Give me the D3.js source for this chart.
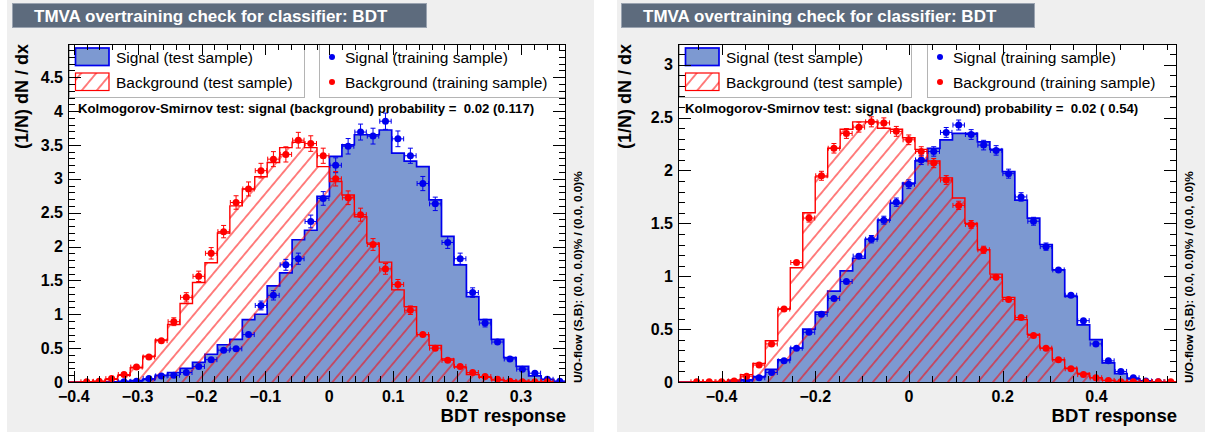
<!DOCTYPE html>
<meta charset="utf-8">

<head>
  <title>tmva-overtraining</title>
</head>

<style>
  body { margin: 0; background: #fff; }
  text { font-family: "Liberation Sans", Arial, Helvetica, sans-serif; }
</style>

<body>
  <svg id="chart" width="1205" height="436"></svg>

  <script src="https://cdnjs.cloudflare.com/ajax/libs/d3/7.8.5/d3.min.js"></script>

  <script>
    // ---- data, left canvas ----
    var xRangeA = [-0.409, 0.3705];
    var yMaxA = 4.99;
    var xTicksA = [-0.4, -0.3, -0.2, -0.1, 0, 0.1, 0.2, 0.3];
    var yTicksA = [0, 0.5, 1, 1.5, 2, 2.5, 3, 3.5, 4, 4.5];
    var sigTestA = [0, 0, 0, 0.003, 0.01, 0.02, 0.04, 0.10, 0.14, 0.20,
      0.29, 0.41, 0.55, 0.63, 0.92, 1.00, 1.42, 1.61, 2.10, 2.24,
      2.74, 3.33, 3.50, 3.65, 3.65, 3.72, 3.38, 3.26, 3.18, 2.69,
      2.15, 1.73, 1.26, 0.92, 0.63, 0.36, 0.23, 0.09, 0.04, 0.01];
    var bkgTestA = [0, 0.005, 0.01, 0.04, 0.10, 0.21, 0.38, 0.62, 0.85, 1.16,
      1.47, 1.76, 2.20, 2.60, 2.85, 3.03, 3.24, 3.46, 3.54, 3.46,
      3.18, 2.96, 2.76, 2.44, 2.05, 1.77, 1.36, 1.11, 0.70, 0.54,
      0.34, 0.22, 0.11, 0.07, 0.03, 0.02, 0.01, 0.005, 0, 0];
    var sigTrainA = [null, null, null, null, 0.003, 0.01, 0.05, 0.09, 0.10, 0.14,
      0.23, 0.33, 0.47, 0.49, 0.70, 1.13, 1.28, 1.73, 1.82, 2.37,
      2.71, 3.20, 3.48, 3.69, 3.63, 3.85, 3.59, 3.34, 2.93, 2.63,
      2.06, 1.82, 1.32, 0.87, 0.59, 0.34, 0.19, 0.13, 0.04, 0.01];
    var bkgTrainA = [null, 0.003, 0.01, 0.05, 0.11, 0.22, 0.37, 0.61, 0.89, 1.25,
      1.56, 1.90, 2.22, 2.65, 2.85, 3.12, 3.29, 3.36, 3.57, 3.52,
      3.34, 3.00, 2.72, 2.47, 2.03, 1.67, 1.44, 1.06, 0.70, 0.50,
      0.32, 0.23, 0.14, 0.08, 0.04, 0.01, 0.005, 0.004, 0.003, null];
    var nTrainA = 13700; // events behind the training points (sets error size)
    var ksA = 'Kolmogorov-Smirnov test: signal (background) probability =  0.02 (0.117)';

    // ---- data, right canvas ----
    var xRangeB = [-0.493, 0.572];
    var yMaxB = 3.196;
    var xTicksB = [-0.4, -0.2, 0, 0.2, 0.4];
    var yTicksB = [0, 0.5, 1, 1.5, 2, 2.5, 3];
    var sigTestB = [0, 0, 0, 0, 0.01, 0.02, 0.05, 0.12, 0.21, 0.32,
      0.50, 0.66, 0.86, 1.05, 1.17, 1.35, 1.53, 1.69, 1.88, 2.09,
      2.21, 2.29, 2.35, 2.35, 2.27, 2.20, 1.99, 1.72, 1.55, 1.30,
      1.06, 0.81, 0.54, 0.40, 0.18, 0.08, 0.03, 0.01, 0, 0];
    var bkgTestB = [0, 0, 0, 0.005, 0.02, 0.07, 0.175, 0.39, 0.69, 1.08,
      1.60, 1.94, 2.21, 2.39, 2.46, 2.46, 2.40, 2.39, 2.31, 2.20,
      2.09, 1.93, 1.74, 1.50, 1.25, 1.02, 0.80, 0.59, 0.45, 0.32,
      0.21, 0.13, 0.08, 0.04, 0.015, 0.005, 0, 0, 0, 0];
    var sigTrainB = [null, null, null, null, 0.003, 0.01, 0.04, 0.09, 0.20, 0.32,
      0.47, 0.64, 0.79, 0.95, 1.19, 1.35, 1.53, 1.70, 1.87, 2.10,
      2.18, 2.36, 2.43, 2.34, 2.24, 2.19, 1.97, 1.75, 1.52, 1.28,
      1.06, 0.82, 0.58, 0.36, 0.20, 0.10, 0.04, 0.01, 0.003, null];
    var bkgTrainB = [null, 0.002, 0.002, 0.003, 0.01, 0.055, 0.16, 0.36, 0.69, 1.13,
      1.55, 1.95, 2.21, 2.35, 2.41, 2.46, 2.45, 2.37, 2.29, 2.18,
      2.07, 1.91, 1.67, 1.49, 1.25, 0.99, 0.78, 0.61, 0.44, 0.32,
      0.21, 0.125, 0.07, 0.04, 0.015, 0.003, 0.002, 0.002, 0.002, 0.002];
    var nTrainB = 41000;
    var ksB = 'Kolmogorov-Smirnov test: signal (background) probability =  0.02 ( 0.54)';

    var titleText = 'TMVA overtraining check for classifier: BDT';
    var legendLabels = ['Signal (test sample)', 'Background (test sample)',
      'Signal (training sample)', 'Background (training sample)'];
    var uoText = 'U/O-flow (S,B): (0.0, 0.0)% / (0.0, 0.0)%';

    var sigFill = '#7d99d1', sigLine = '#0000ee', bkgLine = '#ff0000';

    var svg = d3.select('#chart');
    var defs = svg.append('defs');

    function fmt(v) {
      return (v < 0 ? '\u2212' : '') + Math.abs(v);
    }

    function drawPanel(p) {
      var g = svg.append('g');
      var nBins = p.sigTest.length;

      // canvas background
      g.append('rect').attr('x', p.bg[0]).attr('y', p.bg[1])
        .attr('width', p.bg[2] - p.bg[0]).attr('height', p.bg[3] - p.bg[1])
        .attr('fill', '#efefef');

      var x = d3.scaleLinear().domain(p.xRange).range([p.L, p.R]);
      var y = d3.scaleLinear().domain([0, p.yMax]).range([p.B, p.T]);
      var bw = (p.xRange[1] - p.xRange[0]) / nBins;
      var edge = function(i) { return x(p.xRange[0] + i * bw); };

      // frame fill
      g.append('rect').attr('x', p.L).attr('y', p.T)
        .attr('width', p.R - p.L).attr('height', p.B - p.T).attr('fill', '#ffffff');

      defs.append('clipPath').attr('id', 'clip' + p.id)
        .append('rect').attr('x', p.L).attr('y', p.T)
        .attr('width', p.R - p.L).attr('height', p.B - p.T);

      var hatch = defs.append('pattern').attr('id', 'hatch' + p.id)
        .attr('patternUnits', 'userSpaceOnUse')
        .attr('width', 11.5).attr('height', 11.5)
        .attr('patternTransform', 'rotate(40)');
      hatch.append('line').attr('x1', 5.75).attr('x2', 5.75).attr('y1', -1).attr('y2', 13)
        .attr('stroke', bkgLine).attr('stroke-width', 1);

      var plot = g.append('g').attr('clip-path', 'url(#clip' + p.id + ')');

      function stepPts(vals) {
        var pts = [[edge(0), 0]];
        vals.forEach(function(v, i) { pts.push([edge(i), v]); });
        pts.push([edge(nBins), vals[nBins - 1]]);
        pts.push([edge(nBins), 0]);
        return pts;
      }
      var area = d3.area().curve(d3.curveStepAfter)
        .x(function(d) { return d[0]; }).y0(y(0)).y1(function(d) { return y(d[1]); });
      var line = d3.line().curve(d3.curveStepAfter)
        .x(function(d) { return d[0]; }).y(function(d) { return y(d[1]); });

      plot.append('path').attr('d', area(stepPts(p.sigTest))).attr('fill', sigFill);
      plot.append('path').attr('d', line(stepPts(p.sigTest)))
        .attr('fill', 'none').attr('stroke', sigLine).attr('stroke-width', 1.7);
      plot.append('path').attr('d', area(stepPts(p.bkgTest))).attr('fill', 'url(#hatch' + p.id + ')');
      plot.append('path').attr('d', line(stepPts(p.bkgTest)))
        .attr('fill', 'none').attr('stroke', bkgLine).attr('stroke-width', 1.4);

      // training samples as points with error bars
      function points(vals, color) {
        var pts = vals.map(function(v, i) { return { v: v, i: i }; })
          .filter(function(d) { return d.v !== null; });
        var pg = plot.append('g').attr('stroke', color).attr('fill', color).attr('stroke-width', 1);
        pts.forEach(function(d) {
          var cx = (edge(d.i) + edge(d.i + 1)) / 2, cy = y(d.v);
          var err = Math.sqrt(d.v / (p.nTrain * bw));
          var x0 = edge(d.i) + 0.5, x1 = edge(d.i + 1) - 0.5;
          pg.append('line').attr('x1', x0).attr('x2', x1).attr('y1', cy).attr('y2', cy);
          pg.append('line').attr('x1', x0).attr('x2', x0).attr('y1', cy - 2.5).attr('y2', cy + 2.5);
          pg.append('line').attr('x1', x1).attr('x2', x1).attr('y1', cy - 2.5).attr('y2', cy + 2.5);
          var yt = y(d.v + err), yb = y(d.v - err);
          if (cy - yt > 3.5) {
            pg.append('line').attr('x1', cx).attr('x2', cx).attr('y1', yt).attr('y2', yb);
            pg.append('line').attr('x1', cx - 2.5).attr('x2', cx + 2.5).attr('y1', yt).attr('y2', yt);
            pg.append('line').attr('x1', cx - 2.5).attr('x2', cx + 2.5).attr('y1', yb).attr('y2', yb);
          }
          pg.append('circle').attr('cx', cx).attr('cy', cy).attr('r', 3.5).attr('stroke', 'none');
        });
      }
      points(p.sigTrain, sigLine);
      points(p.bkgTrain, bkgLine);

      // legends
      var l1 = p.leg1, l2 = p.leg2;
      [l1, l2].forEach(function(l) {
        g.append('rect').attr('x', l[0] + 0.5).attr('y', p.T + 0.5)
          .attr('width', l[1] - l[0] - 1).attr('height', p.legB - p.T)
          .attr('fill', '#ffffff').attr('stroke', '#b4b4b4').attr('stroke-width', 1);
      });
      var bx = l1[0] + 6.5, bwid = 33.5;
      g.append('rect').attr('x', bx).attr('y', 48).attr('width', bwid).attr('height', 17.5)
        .attr('fill', sigFill).attr('stroke', sigLine).attr('stroke-width', 1.7);
      g.append('rect').attr('x', bx).attr('y', 73).attr('width', bwid).attr('height', 17.5)
        .attr('fill', 'url(#hatch' + p.id + ')').attr('stroke', bkgLine).attr('stroke-width', 1.2);
      var legText = [[l1[0] + 47, 62.5, legendLabels[0]], [l1[0] + 47, 87.5, legendLabels[1]],
        [l2[0] + 26, 62.5, legendLabels[2]], [l2[0] + 26, 87.5, legendLabels[3]]];
      legText.forEach(function(t) {
        g.append('text').attr('x', t[0]).attr('y', t[1]).attr('font-size', 15.5)
          .attr('fill', '#000').text(t[2]);
      });
      g.append('circle').attr('cx', l2[0] + 13).attr('cy', 57).attr('r', 3).attr('fill', sigLine);
      g.append('circle').attr('cx', l2[0] + 13).attr('cy', 82).attr('r', 3).attr('fill', bkgLine);

      g.append('text').attr('x', p.ksX).attr('y', 112.5).attr('font-size', 13.2)
        .attr('font-weight', 'bold').style('white-space', 'pre').text(p.ks);

      // axes: ticks on all four sides, inward
      var ax = g.append('g').attr('stroke', '#000').attr('stroke-width', 1);
      function ticksBetween(lo, hi, step) {
        var out = [], k0 = Math.ceil(lo / step - 1e-6), k1 = Math.floor(hi / step + 1e-6);
        for (var k = k0; k <= k1; k++) out.push(+(k * step).toFixed(6));
        return out;
      }
      ticksBetween(p.xRange[0], p.xRange[1], p.xMinor).forEach(function(v) {
        var major = p.xTicks.some(function(t) { return Math.abs(t - v) < 1e-6; });
        var len = major ? 11 : 6, xx = Math.round(x(v)) + 0.5;
        ax.append('line').attr('x1', xx).attr('x2', xx).attr('y1', p.B).attr('y2', p.B - len);
        ax.append('line').attr('x1', xx).attr('x2', xx).attr('y1', p.T).attr('y2', p.T + len);
      });
      ticksBetween(0, p.yMax, 0.1).forEach(function(v) {
        var major = p.yTicks.some(function(t) { return Math.abs(t - v) < 1e-6; });
        var len = major ? 13 : 7, yy = Math.round(y(v)) + 0.5;
        ax.append('line').attr('x1', p.L).attr('x2', p.L + len).attr('y1', yy).attr('y2', yy);
        ax.append('line').attr('x1', p.R).attr('x2', p.R - len).attr('y1', yy).attr('y2', yy);
      });
      g.append('rect').attr('x', p.L + 0.5).attr('y', p.T + 0.5)
        .attr('width', p.R - p.L - 1).attr('height', p.B - p.T)
        .attr('fill', 'none').attr('stroke', '#000').attr('stroke-width', 1);

      p.xTicks.forEach(function(v) {
        g.append('text').attr('x', x(v)).attr('y', 401.5).attr('text-anchor', 'middle')
          .attr('font-size', 16).attr('font-weight', 'bold').text(fmt(v));
      });
      p.yTicks.forEach(function(v) {
        g.append('text').attr('x', p.L - 5).attr('y', y(v) + 5.6).attr('text-anchor', 'end')
          .attr('font-size', 16).attr('font-weight', 'bold').text(fmt(v));
      });

      g.append('text').attr('x', p.R).attr('y', 422).attr('text-anchor', 'end')
        .attr('font-size', 18.5).attr('font-weight', 'bold').text('BDT response');
      g.append('text').attr('transform', 'translate(' + p.yLabX + ',' + p.T + ') rotate(-90)')
        .attr('text-anchor', 'end').attr('font-size', 18).attr('font-weight', 'bold')
        .text('(1/N) dN / dx');
      g.append('text').attr('transform', 'translate(' + (p.R + 15.5) + ',' + (p.B + 1) + ') rotate(-90)')
        .attr('font-size', 11.8).attr('font-weight', 'bold').text(uoText);

      // title box
      g.append('rect').attr('x', p.title[0] + 0.5).attr('y', 3.5)
        .attr('width', p.title[1] - p.title[0]).attr('height', 24)
        .attr('fill', '#5d6b7d').attr('stroke', '#9aa3b0').attr('stroke-width', 1);
      g.append('text').attr('x', p.title[0] + 22).attr('y', 21.5)
        .attr('font-size', 17).attr('font-weight', 'bold').attr('fill', '#ffffff')
        .text(titleText);
    }

    drawPanel({
      id: 'A', bg: [7, 0, 594, 432], L: 68, R: 566, T: 44, B: 382, legB: 97,
      leg1: [69, 305], leg2: [319, 566], title: [12, 426], ksX: 78, yLabX: 28,
      xRange: xRangeA, yMax: yMaxA, xTicks: xTicksA, yTicks: yTicksA, xMinor: 0.02,
      sigTest: sigTestA, bkgTest: bkgTestA, sigTrain: sigTrainA, bkgTrain: bkgTrainA,
      nTrain: nTrainA, ks: ksA
    });
    drawPanel({
      id: 'B', bg: [617, 0, 1205, 432], L: 678, R: 1177, T: 44, B: 382, legB: 97,
      leg1: [679, 912], leg2: [927, 1177], title: [621, 1034], ksX: 685, yLabX: 631,
      xRange: xRangeB, yMax: yMaxB, xTicks: xTicksB, yTicks: yTicksB, xMinor: 0.05,
      sigTest: sigTestB, bkgTest: bkgTestB, sigTrain: sigTrainB, bkgTrain: bkgTrainB,
      nTrain: nTrainB, ks: ksB
    });
  </script>
</body>

</html>
